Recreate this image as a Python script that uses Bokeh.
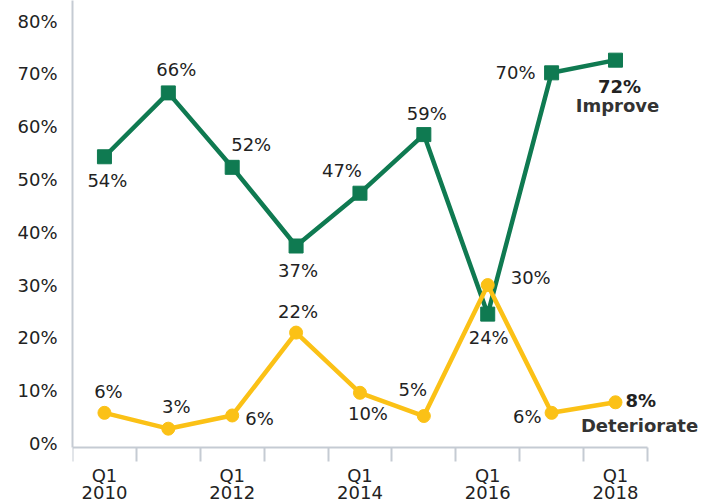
from bokeh.plotting import figure
from bokeh.models import ColumnDataSource, FixedTicker, Range1d, LabelSet
from bokeh.core.properties import value
from bokeh.embed import file_html
from bokeh.resources import INLINE

# ---- data ----
periods = ["Q1 2010", "Q1 2011", "Q1 2012", "Q1 2013", "Q1 2014",
           "Q1 2015", "Q1 2016", "Q1 2017", "Q1 2018"]
improve = [54.3, 66.4, 52.3, 37.4, 47.4, 58.5, 24.5, 70.2, 72.6]
improve_labels = ["54%", "66%", "52%", "37%", "47%", "59%", "24%", "70%", "72%"]
deteriorate = [5.8, 2.8, 5.3, 21.0, 9.6, 5.2, 30.0, 5.8, 7.8]
deteriorate_labels = ["6%", "3%", "6%", "22%", "10%", "5%", "30%", "6%", "8%"]
tick_years = {0: "Q1\n2010", 2: "Q1\n2012", 4: "Q1\n2014", 6: "Q1\n2016", 8: "Q1\n2018"}
y_ticks = [0, 10, 20, 30, 40, 50, 60, 70, 80]
series_names = ["Improve", "Deteriorate"]

GREEN = "#0f7a51"
YELLOW = "#fbc116"
AXIS = "#c5cbd3"
TXT = "#222222"
FONT = "DejaVu Sans"
FS = "18px"

idx = list(range(len(periods)))
AXIS_Y = -0.7  # baseline where the x axis is drawn

p = figure(width=714, height=504, output_backend="svg", toolbar_location=None,
           x_range=Range1d(-0.5, 9.55), y_range=Range1d(-11.56, 83.9),
           min_border_left=72, min_border_right=0, min_border_top=0,
           min_border_bottom=0)
p.outline_line_color = None
p.grid.grid_line_color = None
p.background_fill_color = "white"
p.border_fill_color = "white"

# x axis: labels at even-year centers, ticks at category boundaries
xa = p.xaxis[0]
xa.fixed_location = AXIS_Y
xa.bounds = (-0.5, len(periods) - 0.5)
xa.ticker = FixedTicker(ticks=[k for k in tick_years],
                        minor_ticks=[i - 0.5 for i in range(len(periods) + 1)])
xa.major_label_overrides = {k: v for k, v in tick_years.items()}
xa.major_tick_line_color = None
xa.major_tick_out = 0
xa.major_tick_in = 0
xa.minor_tick_line_color = AXIS
xa.minor_tick_line_width = 2
xa.minor_tick_out = 14
xa.minor_tick_in = 0
xa.axis_line_color = AXIS
xa.axis_line_width = 2
xa.major_label_text_font = FONT
xa.major_label_text_font_size = FS
xa.major_label_text_color = TXT
xa.major_label_text_line_height = 0.8
xa.major_label_standoff = 4

ya = p.yaxis[0]
ya.bounds = (AXIS_Y, 83.9)
ya.ticker = FixedTicker(ticks=y_ticks, minor_ticks=[])
ya.major_label_overrides = {t: f"{t}%" for t in y_ticks}
ya.major_tick_line_color = None
ya.major_tick_out = 0
ya.major_tick_in = 0
ya.minor_tick_line_color = None
ya.axis_line_color = AXIS
ya.axis_line_width = 2
ya.major_label_text_font = FONT
ya.major_label_text_font_size = FS
ya.major_label_text_color = TXT
ya.major_label_standoff = 15

# lines + markers
p.line(idx, improve, line_color=GREEN, line_width=4.5)
p.scatter(idx, improve, marker="square", size=14, fill_color=GREEN, line_color=GREEN)
p.line(idx, deteriorate, line_color=YELLOW, line_width=4.5)
p.scatter(idx, deteriorate, marker="circle", size=13, fill_color=YELLOW, line_color=YELLOW)

# label placement (pixel offsets; styling only)
imp_dx = [3, 8, 19, 2, -18, 3, 1, -16, 4]
imp_dy = [-24, 23, 23, -24, 23, 21, -23, 0, -26]
imp_al = ["center", "center", "center", "center", "center", "center", "center", "right", "center"]
imp_fs = ["normal"] * 8 + ["bold"]

det_dx = [4, 8, 13, 2, 8, -11, 23, -10, 10]
det_dy = [21, 22, -3, 21, -21, 27, 8, -4, 2]
det_al = ["center", "center", "left", "center", "center", "center", "left", "right", "left"]
det_fs = ["normal"] * 8 + ["bold"]

src_i = ColumnDataSource(dict(x=idx, y=improve, t=improve_labels, dx=imp_dx, dy=imp_dy,
                              al=imp_al, fs=imp_fs))
src_d = ColumnDataSource(dict(x=idx, y=deteriorate, t=deteriorate_labels, dx=det_dx, dy=det_dy,
                              al=det_al, fs=det_fs))

for src in (src_i, src_d):
    ls = LabelSet(x="x", y="y", text="t", source=src, x_offset="dx", y_offset="dy",
                  text_align="al", text_baseline="middle", text_font=value(FONT),
                  text_font_size=value(FS), text_font_style="fs", text_color=TXT)
    p.add_layout(ls)

# series name labels at the last point
src_n = ColumnDataSource(dict(x=[idx[-1], idx[-1]], y=[improve[-1], deteriorate[-1]],
                              t=series_names, dx=[2, 24], dy=[-45, -23]))
p.add_layout(LabelSet(x="x", y="y", text="t", source=src_n, x_offset="dx", y_offset="dy",
                      text_align="center", text_baseline="middle", text_font=value(FONT),
                      text_font_size=value(FS), text_font_style="bold", text_color="#333333"))

open("out.html", "w").write(file_html(p, INLINE))
